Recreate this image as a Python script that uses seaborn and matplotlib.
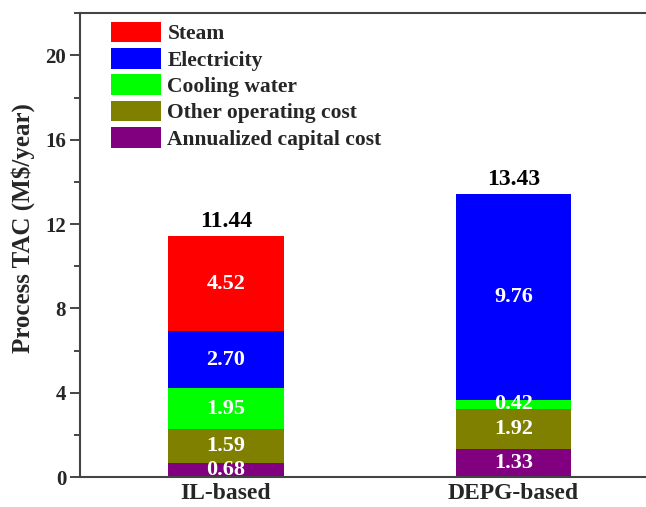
import pandas as pd
import matplotlib.pyplot as plt
import seaborn as sns
from matplotlib.patches import Patch
from matplotlib.ticker import MultipleLocator

processes = ['IL-based', 'DEPG-based']
components = ['Annualized capital cost', 'Other operating cost', 'Cooling water', 'Electricity', 'Steam']
capital = [0.68, 1.33]
other_op = [1.59, 1.92]
cooling = [1.95, 0.42]
electricity = [2.70, 9.76]
steam = [4.52, 0.0]
totals = [11.44, 13.43]
colors = ['#800080', '#808000', '#00FF00', '#0000FF', '#FF0000']

sns.set_style('ticks')
plt.rcParams['font.family'] = ['Liberation Serif', 'DejaVu Serif']
plt.rcParams['font.weight'] = 'bold'

df = pd.DataFrame({'process': processes, 'capital': capital, 'other': other_op,
                   'cooling': cooling, 'electricity': electricity, 'steam': steam})
cols = ['capital', 'other', 'cooling', 'electricity', 'steam']
cum = df[cols].cumsum(axis=1)

fig = plt.figure(figsize=(6.46, 5.07), dpi=100)
ax = fig.add_axes([0.124, 0.059, 0.876, 0.915])

# draw cumulative stacks from the top down so each layer covers the one above
for i in range(len(cols) - 1, -1, -1):
    sns.barplot(x=df['process'], y=cum[cols[i]], color=colors[i], width=0.4,
                saturation=1, ax=ax, zorder=2, linewidth=0, edgecolor='none')

# segment labels
for j in range(len(processes)):
    base = 0
    for i, c in enumerate(cols):
        v = df.loc[j, c]
        if v > 0:
            ax.text(j, base + v / 2, f'{v:.2f}', ha='center', va='center',
                    color='white', fontsize=16, fontweight='bold', zorder=3)
        base += v
    ax.text(j, totals[j] + 0.2, f'{totals[j]:.2f}', ha='center', va='bottom',
            color='black', fontsize=17, fontweight='bold')

ax.set_xlim(-0.507, 1.46)
ax.set_ylim(0, 22)
ax.yaxis.set_major_locator(MultipleLocator(4))
ax.yaxis.set_minor_locator(MultipleLocator(2))
ax.tick_params(axis='y', which='major', length=7, width=1.2, labelsize=15, direction='out', pad=3)
ax.tick_params(axis='y', which='minor', length=4, width=1.2, direction='out')
ax.tick_params(axis='x', length=0, labelsize=17, pad=4)
for lab in ax.get_xticklabels() + ax.get_yticklabels():
    lab.set_fontweight('bold')
ax.set_xlabel('')
ax.set_ylabel('Process TAC (M\\$/year)', fontsize=18, fontweight='bold')
ax.yaxis.set_label_coords(-0.08, 0.537)
for s in ['left', 'top', 'bottom']:
    ax.spines[s].set_color('#444444')
    ax.spines[s].set_linewidth(1.5)
ax.spines['right'].set_visible(False)

handles = [Patch(facecolor=colors[i], edgecolor='none') for i in range(len(cols) - 1, -1, -1)]
labels = components[::-1]
ax.legend(handles, labels, loc='upper left', bbox_to_anchor=(0.04, 1.0), frameon=False,
          borderaxespad=0, prop={'weight': 'bold', 'size': 15.5}, handlelength=2.3,
          handleheight=1.1, labelspacing=0.17, handletextpad=0.3)

plt.savefig('out.png', dpi=100)
